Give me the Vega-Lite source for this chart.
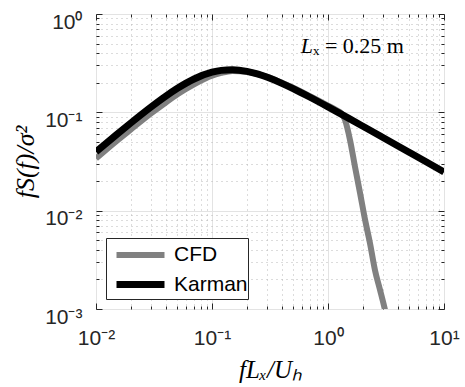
{
  "$schema": "https://vega.github.io/schema/vega-lite/v6.json",
  "width": 348,
  "height": 295,
  "autosize": "none",
  "padding": {"left": 96, "top": 14, "right": 21, "bottom": 78},
  "background": "white",
  "config": {
    "view": {"stroke": "#262626", "strokeWidth": 1},
    "font": "Liberation Sans"
  },
  "datasets": {
    "curves": [
      {"x": 0.01, "y": 0.034, "series": "CFD"},
      {"x": 0.015, "y": 0.051, "series": "CFD"},
      {"x": 0.02, "y": 0.067, "series": "CFD"},
      {"x": 0.03, "y": 0.098, "series": "CFD"},
      {"x": 0.04, "y": 0.126, "series": "CFD"},
      {"x": 0.05, "y": 0.152, "series": "CFD"},
      {"x": 0.07, "y": 0.193, "series": "CFD"},
      {"x": 0.1, "y": 0.236, "series": "CFD"},
      {"x": 0.12, "y": 0.252, "series": "CFD"},
      {"x": 0.15, "y": 0.264, "series": "CFD"},
      {"x": 0.2, "y": 0.259, "series": "CFD"},
      {"x": 0.25, "y": 0.244, "series": "CFD"},
      {"x": 0.3, "y": 0.229, "series": "CFD"},
      {"x": 0.4, "y": 0.2, "series": "CFD"},
      {"x": 0.5, "y": 0.178, "series": "CFD"},
      {"x": 0.7, "y": 0.146, "series": "CFD"},
      {"x": 1.0, "y": 0.117, "series": "CFD"},
      {"x": 1.2, "y": 0.104, "series": "CFD"},
      {"x": 1.3, "y": 0.098, "series": "CFD"},
      {"x": 1.4, "y": 0.084, "series": "CFD"},
      {"x": 1.55, "y": 0.052, "series": "CFD"},
      {"x": 1.71, "y": 0.0278, "series": "CFD"},
      {"x": 1.89, "y": 0.0151, "series": "CFD"},
      {"x": 2.09, "y": 0.008, "series": "CFD"},
      {"x": 2.3, "y": 0.00468, "series": "CFD"},
      {"x": 2.54, "y": 0.00249, "series": "CFD"},
      {"x": 2.81, "y": 0.00156, "series": "CFD"},
      {"x": 3.1, "y": 0.00098, "series": "CFD"},
      {"x": 3.3, "y": 0.0007, "series": "CFD"},
      {"x": 0.01, "y": 0.03977, "series": "Karman"},
      {"x": 0.015, "y": 0.05921, "series": "Karman"},
      {"x": 0.02, "y": 0.07816, "series": "Karman"},
      {"x": 0.03, "y": 0.11398, "series": "Karman"},
      {"x": 0.04, "y": 0.14631, "series": "Karman"},
      {"x": 0.05, "y": 0.1746, "series": "Karman"},
      {"x": 0.07, "y": 0.21846, "series": "Karman"},
      {"x": 0.1, "y": 0.25605, "series": "Karman"},
      {"x": 0.12, "y": 0.26721, "series": "Karman"},
      {"x": 0.15, "y": 0.27122, "series": "Karman"},
      {"x": 0.2, "y": 0.26116, "series": "Karman"},
      {"x": 0.25, "y": 0.24436, "series": "Karman"},
      {"x": 0.3, "y": 0.22709, "series": "Karman"},
      {"x": 0.4, "y": 0.19726, "series": "Karman"},
      {"x": 0.5, "y": 0.17424, "series": "Karman"},
      {"x": 0.7, "y": 0.14235, "series": "Karman"},
      {"x": 1.0, "y": 0.11358, "series": "Karman"},
      {"x": 1.5, "y": 0.08724, "series": "Karman"},
      {"x": 2.0, "y": 0.07218, "series": "Karman"},
      {"x": 3.0, "y": 0.05517, "series": "Karman"},
      {"x": 5.0, "y": 0.03929, "series": "Karman"},
      {"x": 7.0, "y": 0.03141, "series": "Karman"},
      {"x": 10.0, "y": 0.02476, "series": "Karman"}
    ],
    "note": [
      {"x": 0.743, "y": 0.401, "a": "L", "b": "ₓ = 0.25 m"}
    ]
  },
  "layer": [
    {
      "data": {"name": "curves"},
      "mark": {"type": "line", "interpolate": "monotone", "clip": true},
      "encoding": {
        "x": {
          "field": "x", "type": "quantitative",
          "scale": {"type": "log", "domain": [0.01, 10], "nice": false},
          "axis": {
            "orient": "bottom",
            "values": [0.01,0.02,0.03,0.04,0.05,0.06,0.07,0.08,0.09,0.1,0.2,0.3,0.4,0.5,0.6,0.7,0.8,0.9,1,2,3,4,5,6,7,8,9,10],
            "labelExpr": "datum.value==0.01?'10⁻²':datum.value==0.1?'10⁻¹':datum.value==1?'10⁰':datum.value==10?'10¹':''",
            "labelOverlap": false,
            "labelFontSize": 21,
            "labelColor": "#262626",
            "labelPadding": 24,
            "labelFlush": false,
            "domain": false,
            "tickColor": "#262626",
            "tickSize": {"condition": {"test": "datum.value==0.01||datum.value==0.1||datum.value==1||datum.value==10", "value": -6}, "value": -3},
            "grid": true,
            "gridColor": {"condition": {"test": "datum.value==0.01||datum.value==0.1||datum.value==1||datum.value==10", "value": "#e3e3e3"}, "value": "#b8b8b8"},
            "gridDash": {"condition": {"test": "datum.value==0.01||datum.value==0.1||datum.value==1||datum.value==10", "value": []}, "value": [1, 4]},
            "gridWidth": 1,
            "title": "fLₓ/Uₕ",
            "titleFont": "Liberation Serif",
            "titleFontStyle": "italic",
            "titleFontWeight": "normal",
            "titleFontSize": 25,
            "titleColor": "#000000",
            "titlePadding": 6
          }
        },
        "y": {
          "field": "y", "type": "quantitative",
          "scale": {"type": "log", "domain": [0.001, 1], "nice": false},
          "axis": {
            "orient": "left",
            "values": [0.001,0.002,0.003,0.004,0.005,0.006,0.007,0.008,0.009,0.01,0.02,0.03,0.04,0.05,0.06,0.07,0.08,0.09,0.1,0.2,0.3,0.4,0.5,0.6,0.7,0.8,0.9,1],
            "labelExpr": "datum.value==0.001?'10⁻³':datum.value==0.01?'10⁻²':datum.value==0.1?'10⁻¹':datum.value==1?'10⁰':''",
            "labelOverlap": false,
            "labelFontSize": 21,
            "labelColor": "#262626",
            "labelPadding": 20,
            "labelOffset": 8,
            "labelFlush": false,
            "domain": false,
            "tickColor": "#262626",
            "tickSize": {"condition": {"test": "datum.value==0.001||datum.value==0.01||datum.value==0.1||datum.value==1", "value": -6}, "value": -3},
            "grid": true,
            "gridColor": {"condition": {"test": "datum.value==0.001||datum.value==0.01||datum.value==0.1||datum.value==1", "value": "#e3e3e3"}, "value": "#b8b8b8"},
            "gridDash": {"condition": {"test": "datum.value==0.001||datum.value==0.01||datum.value==0.1||datum.value==1", "value": []}, "value": [1, 4]},
            "gridWidth": 1,
            "title": "fS(f)/σ²",
            "titleFont": "Liberation Serif",
            "titleFontStyle": "italic",
            "titleFontWeight": "normal",
            "titleFontSize": 26,
            "titleColor": "#000000",
            "titlePadding": 6
          }
        },
        "color": {
          "field": "series", "type": "nominal",
          "scale": {"domain": ["CFD", "Karman"], "range": ["#808080", "#000000"]},
          "legend": {
            "title": null,
            "orient": "bottom-left",
            "offset": 10,
            "symbolType": "M-1.714,0H1.714",
            "symbolSize": 784,
            "symbolStrokeWidth": 6,
            "symbolOffset": 17,
            "labelFontSize": 21,
            "labelColor": "#000000",
            "labelFont": "Liberation Sans",
            "labelOffset": 16,
            "rowPadding": -7,
            "padding": 0,
            "strokeColor": "#262626",
            "fillColor": "#ffffff",
            "cornerRadius": 0
          }
        },
        "strokeWidth": {
          "field": "series", "type": "nominal",
          "scale": {"domain": ["CFD", "Karman"], "range": [6, 7]},
          "legend": null
        }
      }
    },
    {
      "data": {"name": "note"},
      "mark": {"type": "text", "align": "right", "baseline": "alphabetic", "font": "Liberation Serif", "fontStyle": "italic", "fontSize": 22, "color": "#000000"},
      "encoding": {
        "x": {
          "field": "x", "type": "quantitative",
          "axis": {
            "orient": "top",
            "values": [0.01,0.02,0.03,0.04,0.05,0.06,0.07,0.08,0.09,0.1,0.2,0.3,0.4,0.5,0.6,0.7,0.8,0.9,1,2,3,4,5,6,7,8,9,10],
            "labels": false, "domain": false, "grid": false, "title": null,
            "tickColor": "#262626",
            "tickSize": {"condition": {"test": "datum.value==0.01||datum.value==0.1||datum.value==1||datum.value==10", "value": -6}, "value": -3}
          }
        },
        "y": {
          "field": "y", "type": "quantitative",
          "axis": {
            "orient": "right",
            "values": [0.001,0.002,0.003,0.004,0.005,0.006,0.007,0.008,0.009,0.01,0.02,0.03,0.04,0.05,0.06,0.07,0.08,0.09,0.1,0.2,0.3,0.4,0.5,0.6,0.7,0.8,0.9,1],
            "labels": false, "domain": false, "grid": false, "title": null,
            "tickColor": "#262626",
            "tickSize": {"condition": {"test": "datum.value==0.001||datum.value==0.01||datum.value==0.1||datum.value==1", "value": -6}, "value": -3}
          }
        },
        "text": {"field": "a"}
      }
    },
    {
      "data": {"name": "note"},
      "mark": {"type": "text", "align": "left", "baseline": "alphabetic", "font": "Liberation Serif", "fontSize": 22, "color": "#000000"},
      "encoding": {
        "x": {"field": "x", "type": "quantitative", "axis": null},
        "y": {"field": "y", "type": "quantitative", "axis": null},
        "text": {"field": "b"}
      }
    }
  ],
  "resolve": {"axis": {"x": "independent", "y": "independent"}}
}
